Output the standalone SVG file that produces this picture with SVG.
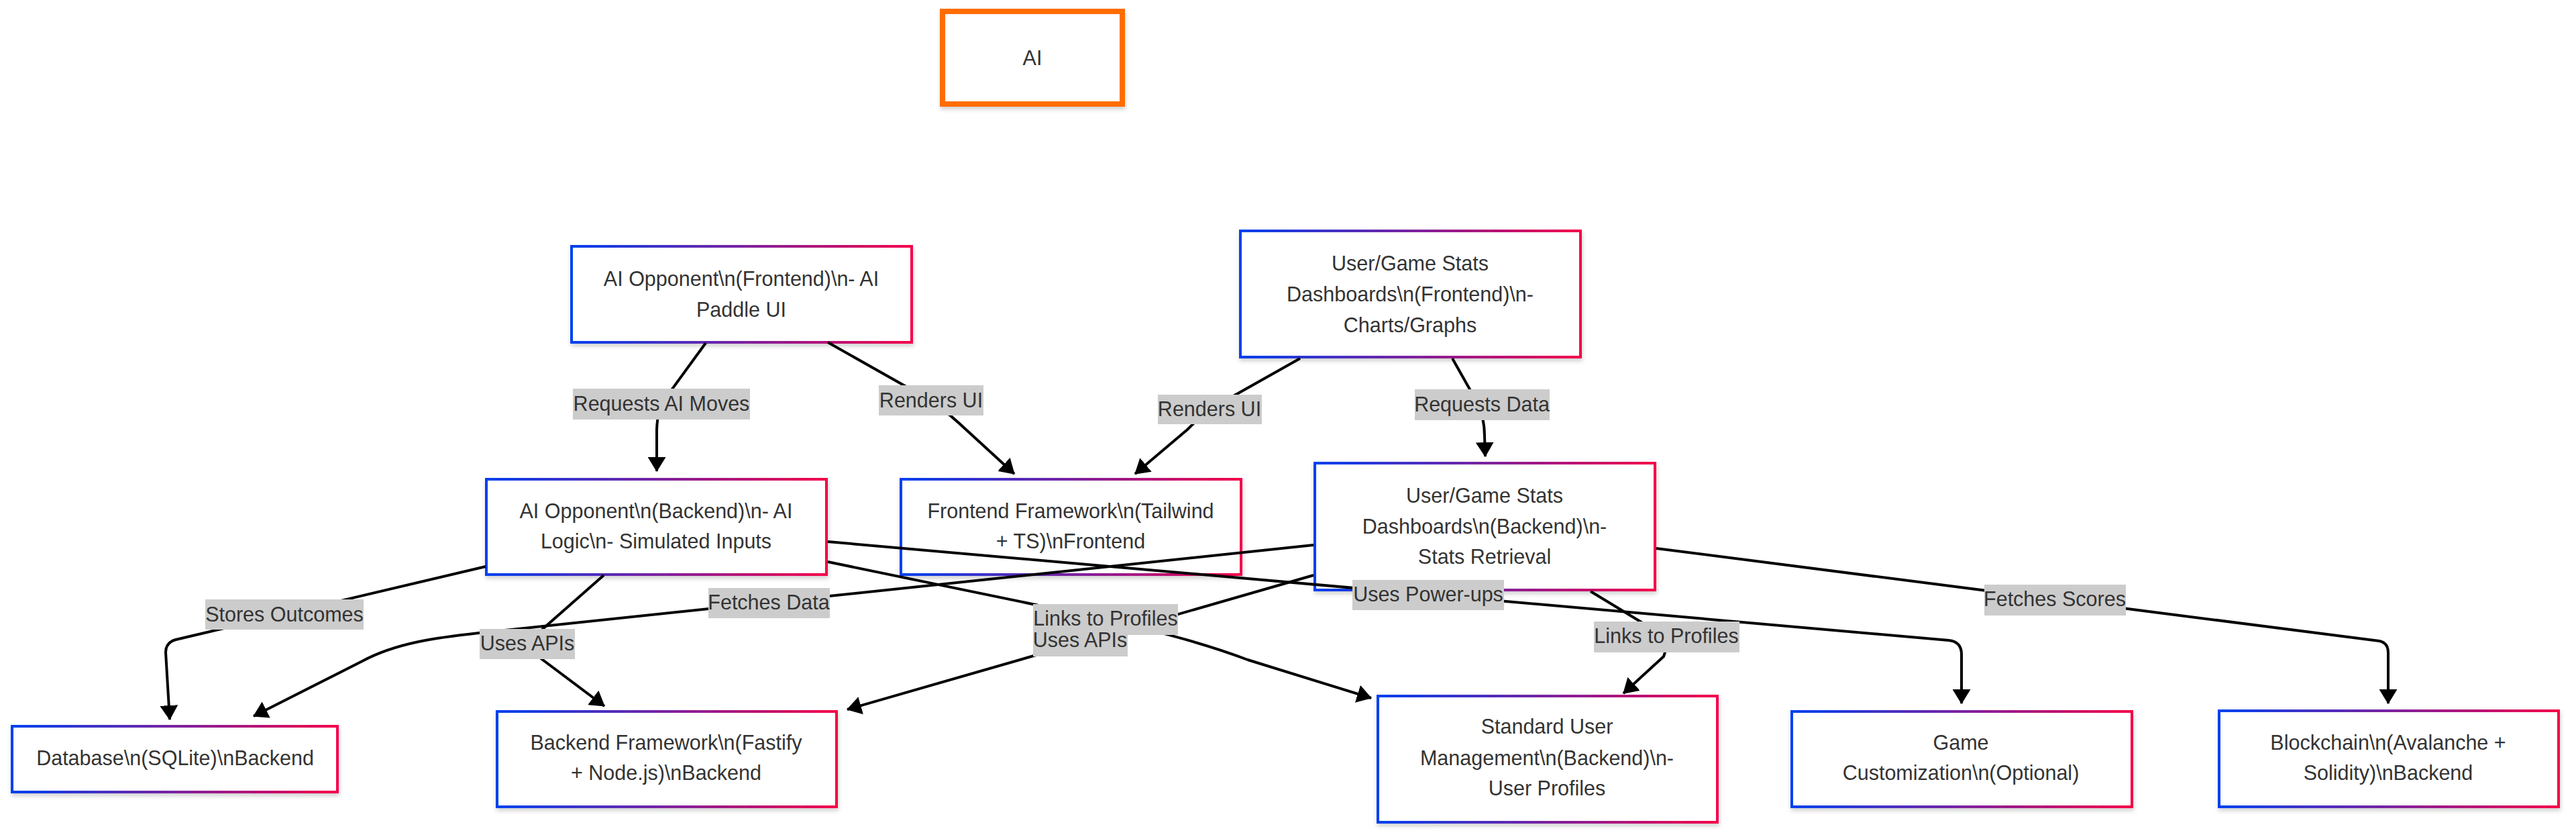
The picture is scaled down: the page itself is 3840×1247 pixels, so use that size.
<svg xmlns="http://www.w3.org/2000/svg" width="3840" height="1247" viewBox="0 0 3840 1247">
<style>
  .node rect { fill: #ffffff; stroke: url(#grad); stroke-width: 4; filter: url(#shadow); }
  .node text, .lbl text { font-family: "Liberation Sans", Arial, sans-serif; font-size: 30.5px; fill: #333333; text-anchor: middle; }
  .edge { fill: none; stroke: #000000; stroke-width: 4; marker-end: url(#arrow); }
  .lbl rect { fill: #cccccc; }
</style>
<defs>
  <linearGradient id="grad" x1="0" y1="0" x2="1" y2="0">
    <stop offset="0" stop-color="#0040f0"/>
    <stop offset="0.5" stop-color="#7a22a0"/>
    <stop offset="1" stop-color="#f5004a"/>
  </linearGradient>
  <filter id="shadow" x="-5%" y="-10%" width="110%" height="125%">
    <feDropShadow dx="1" dy="4" stdDeviation="3" flood-color="#000000" flood-opacity="0.18"/>
  </filter>
  <marker id="arrow" markerUnits="userSpaceOnUse" markerWidth="22" markerHeight="27" viewBox="0 0 22 27" refX="21" refY="13.5" orient="auto">
    <path d="M0,0 L22,13.5 L0,27 Z" fill="#000000"/>
  </marker>
</defs>
<rect width="3840" height="1247" fill="#ffffff"/>

<g id="nodes">
  <g id="ai" class="node">
    <rect x="1405" y="17" width="268" height="138" style="stroke:#ff6d00;stroke-width:8"/>
    <text x="1539" y="97">AI</text>
  </g>
  <g id="ai-opponent-frontend" class="node">
    <rect x="852" y="367" width="507" height="143"/>
    <text x="1105" y="426">AI Opponent\n(Frontend)\n- AI</text>
    <text x="1105" y="472">Paddle UI</text>
  </g>
  <g id="stats-frontend" class="node">
    <rect x="1849" y="344" width="507" height="188"/>
    <text x="2102" y="403">User/Game Stats</text>
    <text x="2102" y="449">Dashboards\n(Frontend)\n-</text>
    <text x="2102" y="495">Charts/Graphs</text>
  </g>
  <g id="ai-opponent-backend" class="node">
    <rect x="725" y="714" width="507" height="142"/>
    <text x="978" y="772">AI Opponent\n(Backend)\n- AI</text>
    <text x="978" y="817">Logic\n- Simulated Inputs</text>
  </g>
  <g id="frontend-framework" class="node">
    <rect x="1343" y="714" width="507" height="142"/>
    <text x="1596" y="772">Frontend Framework\n(Tailwind</text>
    <text x="1596" y="817">+ TS)\nFrontend</text>
  </g>
  <g id="stats-backend" class="node">
    <rect x="1960" y="690" width="507" height="189"/>
    <text x="2213" y="749">User/Game Stats</text>
    <text x="2213" y="795">Dashboards\n(Backend)\n-</text>
    <text x="2213" y="840">Stats Retrieval</text>
  </g>
  <g id="database" class="node">
    <rect x="18" y="1082" width="485" height="98"/>
    <text x="261" y="1140">Database\n(SQLite)\nBackend</text>
  </g>
  <g id="backend-framework" class="node">
    <rect x="741" y="1060" width="506" height="142"/>
    <text x="993" y="1117">Backend Framework\n(Fastify</text>
    <text x="993" y="1162">+ Node.js)\nBackend</text>
  </g>
  <g id="user-management" class="node">
    <rect x="2054" y="1037" width="506" height="188"/>
    <text x="2306" y="1093">Standard User</text>
    <text x="2306" y="1140">Management\n(Backend)\n-</text>
    <text x="2306" y="1185">User Profiles</text>
  </g>
  <g id="game-customization" class="node">
    <rect x="2671" y="1060" width="507" height="142"/>
    <text x="2923" y="1117">Game</text>
    <text x="2923" y="1162">Customization\n(Optional)</text>
  </g>
  <g id="blockchain" class="node">
    <rect x="3308" y="1059" width="506" height="143"/>
    <text x="3560" y="1117">Blockchain\n(Avalanche +</text>
    <text x="3560" y="1162">Solidity)\nBackend</text>
  </g>
</g>

<g id="connectors">
  <path class="edge" d="M1052,511 L990,596 Q980,612 979,640 L979,702"/>
  <path class="edge" d="M1234,510 L1388,597 Q1410,612 1440,640 L1512,706"/>
  <path class="edge" d="M1938,534 L1803,610 Q1790,620 1770,640 L1692,706"/>
  <path class="edge" d="M2165,534 L2200,596 Q2213,620 2213,650 L2214,680"/>
  <path class="edge" d="M724,844 L262,953 Q247,957 247,972 L253,1072"/>
  <path class="edge" d="M900,857 L800,945 Q784,962 805,980 L901,1052"/>
  <path class="edge" d="M1234,837 L1539,900 C1640,921 1760,945 1860,983 L2044,1040"/>
  <path class="edge" d="M1234,807 L2905,954 Q2924,956 2924,975 L2924,1048"/>
  <path class="edge" d="M1958,812 L714,943 C650,950 590,958 540,985 L378,1067"/>
  <path class="edge" d="M1958,857 L1263,1057"/>
  <path class="edge" d="M2371,881 L2460,935 Q2490,955 2480,978 L2420,1033"/>
  <path class="edge" d="M2469,817 L3547,955 Q3560,958 3560,972 L3560,1048"/>
</g>

<g id="edge-labels">
  <g class="lbl"><rect x="854" y="579" width="264" height="46"/><text x="986" y="612">Requests AI Moves</text></g>
  <g class="lbl"><rect x="1310" y="574" width="156" height="45"/><text x="1388" y="607">Renders UI</text></g>
  <g class="lbl"><rect x="1726" y="588" width="155" height="44"/><text x="1803" y="620">Renders UI</text></g>
  <g class="lbl"><rect x="2109" y="580" width="201" height="46"/><text x="2209" y="613">Requests Data</text></g>
  <g class="lbl"><rect x="306" y="893" width="236" height="45"/><text x="424" y="926">Stores Outcomes</text></g>
  <g class="lbl"><rect x="715" y="937" width="142" height="45"/><text x="786" y="969">Uses APIs</text></g>
  <g class="lbl"><rect x="1056" y="876" width="181" height="45"/><text x="1146" y="908">Fetches Data</text></g>
  <g class="lbl"><rect x="2016" y="864" width="226" height="45"/><text x="2129" y="896">Uses Power-ups</text></g>
  <g class="lbl">
    <rect x="1540" y="900" width="216" height="46"/>
    <rect x="1540" y="932" width="141" height="46"/>
    <text x="1648" y="932">Links to Profiles</text>
    <text x="1610" y="964">Uses APIs</text>
  </g>
  <g class="lbl"><rect x="2376" y="926" width="217" height="46"/><text x="2484" y="958">Links to Profiles</text></g>
  <g class="lbl"><rect x="2958" y="871" width="211" height="46"/><text x="3063" y="903">Fetches Scores</text></g>
</g>
</svg>
